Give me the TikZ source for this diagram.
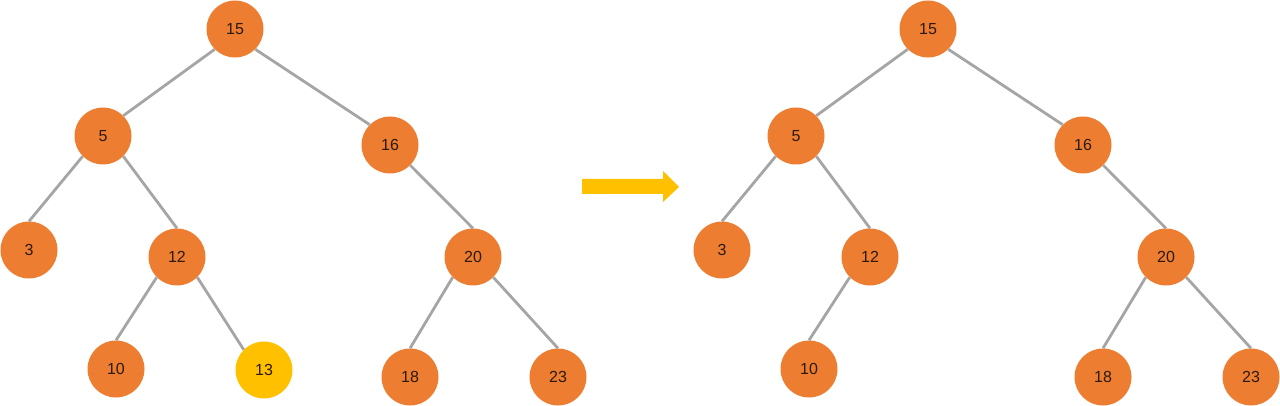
\documentclass[tikz,border=0pt]{standalone}
\usepackage{fontspec}
\setmainfont{Liberation Sans}
\definecolor{nodeorange}{HTML}{ED7D31}
\definecolor{nodeyellow}{HTML}{FFC000}
\definecolor{edgegray}{HTML}{A5A5A5}
\definecolor{txt}{HTML}{2B1A0E}
\begin{document}
\begin{tikzpicture}[x=1pt,y=-1pt,
  treenode/.style={circle,fill=nodeorange,minimum size=57pt,inner sep=0pt,font=\fontsize{16}{16}\selectfont,text=txt},
  hinode/.style={treenode,fill=nodeyellow},
  edge/.style={draw=edgegray,line width=2.8pt}]
\useasboundingbox (0,0) rectangle (1280,406);
% left tree
\node[treenode] (a15) at (235,29) {15};
\node[treenode] (a5) at (103,136) {5};
\node[treenode] (a16) at (390,145) {16};
\node[treenode] (a3) at (29,250) {3};
\node[treenode] (a12) at (177,257) {12};
\node[treenode] (a20) at (473,257) {20};
\node[treenode] (a10) at (116,369) {10};
\node[hinode] (a13) at (264,370) {13};
\node[treenode] (a18) at (410,377) {18};
\node[treenode] (a23) at (558,377) {23};
% right tree
\node[treenode] (b15) at (928,29) {15};
\node[treenode] (b5) at (796,136) {5};
\node[treenode] (b16) at (1083,145) {16};
\node[treenode] (b3) at (722,250) {3};
\node[treenode] (b12) at (870,257) {12};
\node[treenode] (b20) at (1166,257) {20};
\node[treenode] (b10) at (809,369) {10};
\node[treenode] (b18) at (1103,377) {18};
\node[treenode] (b23) at (1251,377) {23};
% edges
\foreach \t in {a,b}{
  \draw[edge] (\t15.south west) -- (\t5.north east);
  \draw[edge] (\t15.south east) -- (\t16.north west);
  \draw[edge] (\t5.south west) -- (\t3.north);
  \draw[edge] (\t5.south east) -- (\t12.north);
  \draw[edge] (\t12.south west) -- (\t10.north);
  \draw[edge] (\t16.south east) -- (\t20.north);
  \draw[edge] (\t20.south west) -- (\t18.north);
  \draw[edge] (\t20.south east) -- (\t23.north);
}
\draw[edge] (a12.south east) -- (a13.north west);
% arrow
\fill[nodeyellow] (582,179) -- (663,179) -- (663,171) -- (679,187) -- (663,202) -- (663,194) -- (582,194) -- cycle;
\end{tikzpicture}
\end{document}
